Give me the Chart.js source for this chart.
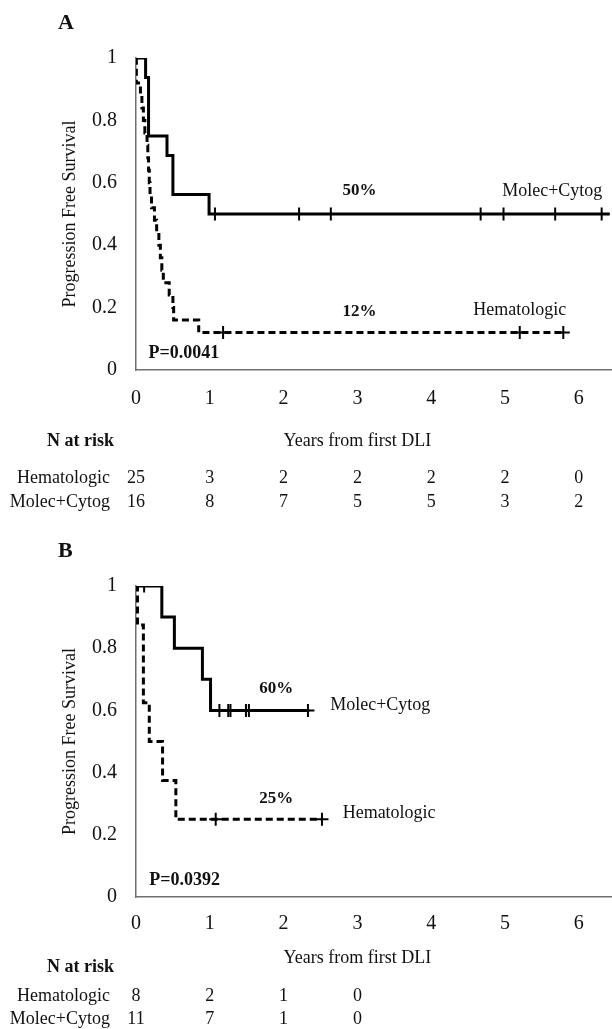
<!DOCTYPE html>
<html>
<head>
<meta charset="utf-8">
<script src="https://cdn.jsdelivr.net/npm/chart.js@4"></script>
<style>
  body { margin: 0; background: #fff; }
  #wrap { position: relative; width: 612px; height: 1029px; }
  canvas { position: absolute; left: 0; }
</style>
</head>
<body>
<div id="wrap">
  <canvas id="chartA" width="612" height="515" style="top:0"></canvas>
  <canvas id="chartB" width="612" height="514" style="top:515px"></canvas>
</div>
<script>
// x axis ticks (years)
const yearTicks = [0, 1, 2, 3, 4, 5, 6];

// Panel A - Kaplan-Meier steps (time in years, survival)
const molA_t = [0, 0.13, 0.17, 0.42, 0.50, 0.99, 6.42];
const molA_s = [1, 0.9375, 0.75, 0.6875, 0.5625, 0.5, 0.5];
const molA_cens = [1.07, 2.21, 2.64, 4.67, 4.98, 5.68, 6.31];

const hemA_t = [0, 0.005, 0.06, 0.08, 0.10, 0.12, 0.13, 0.15, 0.16, 0.17, 0.18, 0.19, 0.21, 0.25, 0.28, 0.31, 0.33, 0.35, 0.37, 0.45, 0.50, 0.51, 0.85, 5.80];
const hemA_s = [1, 0.92, 0.88, 0.84, 0.80, 0.76, 0.76, 0.72, 0.68, 0.64, 0.60, 0.56, 0.52, 0.48, 0.44, 0.40, 0.36, 0.32, 0.28, 0.24, 0.20, 0.16, 0.12, 0.12];
const hemA_cens = [1.18, 5.20, 5.79];

// Panel B
const molB_t = [0, 0.35, 0.52, 0.90, 1.01, 2.35];
const molB_s = [1, 0.9, 0.8, 0.7, 0.6, 0.6];
const molB_cens = [0.11, 1.13, 1.25, 1.28, 1.49, 1.53, 2.33];

const hemB_t = [0, 0.02, 0.10, 0.18, 0.36, 0.54, 2.52];
const hemB_s = [1, 0.875, 0.625, 0.5, 0.375, 0.25, 0.25];
const hemB_cens = [1.08, 2.52];

// numbers at risk
const riskA_hem = [25, 3, 2, 2, 2, 2, 0];
const riskA_mol = [16, 8, 7, 5, 5, 3, 2];
const riskB_hem = [8, 2, 1, 0];
const riskB_mol = [11, 7, 1, 0];

const SERIF = '"Liberation Serif", "Times New Roman", serif';

function toPoints(ts, ss) {
  return ts.map((t, i) => ({ x: t, y: ss[i] }));
}

// survival value at a censor time, looked up from the step arrays
function censorPoints(times, ts, ss) {
  return times.map(c => {
    let v = ss[0];
    for (let i = 0; i < ts.length; i++) if (ts[i] <= c) v = ss[i];
    return { x: c, y: v };
  });
}

function makePanel(id, opt) {
  const annot = {
    id: 'annot',
    afterDraw(chart) {
      const ctx = chart.ctx;
      const xs = chart.scales.x, ys = chart.scales.y;
      const area = chart.chartArea;
      ctx.save();
      ctx.fillStyle = '#111';
      ctx.textBaseline = 'middle';

      // panel letter
      ctx.font = 'bold 22px ' + SERIF;
      ctx.textAlign = 'left';
      ctx.fillText(opt.letter, 58, opt.letterY);

      // y title
      ctx.save();
      ctx.font = '18px ' + SERIF;
      ctx.translate(70, (area.top + area.bottom) / 2);
      ctx.rotate(-Math.PI / 2);
      ctx.textAlign = 'center';
      ctx.fillText('Progression Free Survival', 0, 0);
      ctx.restore();

      // x title
      ctx.font = '18px ' + SERIF;
      ctx.textAlign = 'center';
      ctx.fillText('Years from first DLI', xs.getPixelForValue(3), area.bottom + opt.xTitleDy);

      // in-plot labels
      opt.labels.forEach(l => {
        ctx.font = (l.bold ? 'bold ' : '') + l.size + 'px ' + SERIF;
        ctx.textAlign = 'center';
        ctx.fillText(l.text, xs.getPixelForValue(l.x), ys.getPixelForValue(l.y));
      });

      // risk table
      ctx.font = 'bold 18px ' + SERIF;
      ctx.textAlign = 'right';
      ctx.fillText('N at risk', 114, area.bottom + opt.nRiskDy);
      ctx.font = '18px ' + SERIF;
      ctx.fillText('Hematologic', 110, area.bottom + opt.row1Dy);
      ctx.fillText('Molec+Cytog', 110, area.bottom + opt.row2Dy);
      ctx.textAlign = 'center';
      opt.riskHem.forEach((n, i) => {
        ctx.fillText(String(n), xs.getPixelForValue(yearTicks[i]), area.bottom + opt.row1Dy);
      });
      opt.riskMol.forEach((n, i) => {
        ctx.fillText(String(n), xs.getPixelForValue(yearTicks[i]), area.bottom + opt.row2Dy);
      });
      ctx.restore();
    }
  };

  return new Chart(document.getElementById(id), {
    type: 'line',
    data: {
      datasets: [
        {
          data: toPoints(opt.mol_t, opt.mol_s),
          stepped: true,
          borderColor: '#000',
          borderWidth: 3,
          pointRadius: 0,
          fill: false
        },
        {
          data: toPoints(opt.hem_t, opt.hem_s),
          stepped: true,
          borderColor: '#000',
          borderWidth: 3,
          borderDash: [7, 4],
          pointRadius: 0,
          fill: false
        },
        {
          type: 'scatter',
          data: censorPoints(opt.mol_cens, opt.mol_t, opt.mol_s)
            .concat(censorPoints(opt.hem_cens, opt.hem_t, opt.hem_s)),
          pointStyle: 'cross',
          pointRadius: 6.5,
          borderWidth: 2,
          borderColor: '#000',
          backgroundColor: '#000'
        }
      ]
    },
    options: {
      responsive: false,
      animation: false,
      layout: { autoPadding: false, padding: { top: opt.top, left: 0, right: 0, bottom: 0 } },
      plugins: { legend: { display: false }, tooltip: { enabled: false } },
      scales: {
        x: {
          type: 'linear',
          min: 0,
          max: 6.45,
          grid: { display: false, drawTicks: false, tickLength: 0 },
          border: { color: '#707070', width: 1.5 },
          ticks: {
            stepSize: 1,
            includeBounds: false,
            color: '#111',
            padding: opt.xTickPad,
            maxRotation: 0,
            font: { family: SERIF, size: 20 }
          },
          afterFit: s => { s.height = opt.xHeight; }
        },
        y: {
          min: 0,
          max: 1,
          grid: { display: false, drawTicks: false, tickLength: 0 },
          border: { color: '#707070', width: 1.5 },
          ticks: {
            stepSize: 0.2,
            color: '#111',
            padding: 19,
            font: { family: SERIF, size: 20 },
            callback: v => String(Math.round(v * 10) / 10)
          },
          afterFit: s => { s.width = 136; }
        }
      }
    },
    plugins: [annot]
  });
}

makePanel('chartA', {
  letter: 'A', letterY: 23, top: 58, xHeight: 145, xTickPad: 17,
  mol_t: molA_t, mol_s: molA_s, mol_cens: molA_cens,
  hem_t: hemA_t, hem_s: hemA_s, hem_cens: hemA_cens,
  riskHem: riskA_hem, riskMol: riskA_mol,
  xTitleDy: 71, nRiskDy: 71, row1Dy: 108, row2Dy: 132,
  labels: [
    { text: '50%', x: 3.03, y: 0.574, bold: true, size: 17 },
    { text: '12%', x: 3.03, y: 0.187, bold: true, size: 17 },
    { text: 'Molec+Cytog', x: 5.64, y: 0.574, size: 18 },
    { text: 'Hematologic', x: 5.2, y: 0.19, size: 18 },
    { text: 'P=0.0041', x: 0.65, y: 0.053, bold: true, size: 18 }
  ]
});

makePanel('chartB', {
  letter: 'B', letterY: 36, top: 71, xHeight: 132, xTickPad: 15,
  mol_t: molB_t, mol_s: molB_s, mol_cens: molB_cens,
  hem_t: hemB_t, hem_s: hemB_s, hem_cens: hemB_cens,
  riskHem: riskB_hem, riskMol: riskB_mol,
  xTitleDy: 61, nRiskDy: 70, row1Dy: 99, row2Dy: 122,
  labels: [
    { text: '60%', x: 1.9, y: 0.67, bold: true, size: 17 },
    { text: '25%', x: 1.9, y: 0.317, bold: true, size: 17 },
    { text: 'Molec+Cytog', x: 3.31, y: 0.617, size: 18 },
    { text: 'Hematologic', x: 3.43, y: 0.269, size: 18 },
    { text: 'P=0.0392', x: 0.66, y: 0.055, bold: true, size: 18 }
  ]
});
</script>
</body>
</html>
